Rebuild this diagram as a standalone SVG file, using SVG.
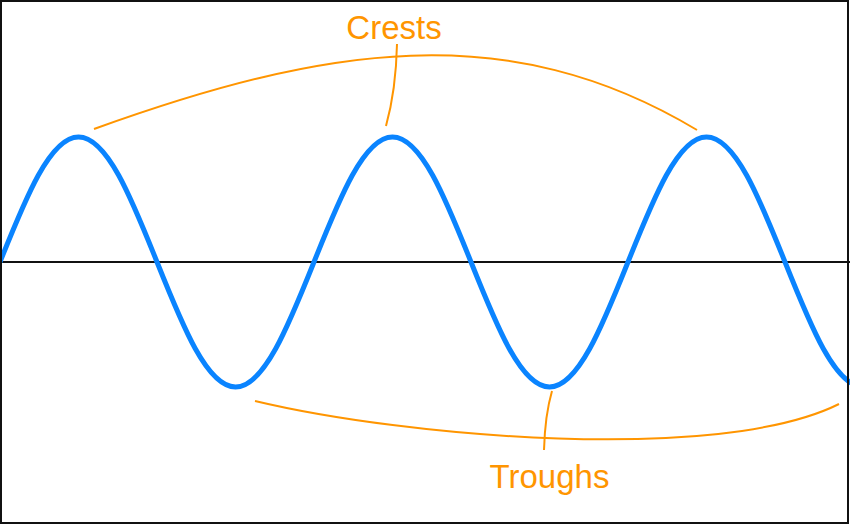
<svg xmlns="http://www.w3.org/2000/svg" width="850" height="525" viewBox="0 0 850 525">
  <style>
    .axis { stroke: #111111; stroke-width: 2; fill: none; }
    .wave { stroke: #0A84FF; stroke-width: 5; fill: none; stroke-linejoin: round; }
    .lead { stroke: #FF9500; stroke-width: 2; fill: none; stroke-linecap: butt; }
    .label { font-family: "Liberation Sans", Arial, sans-serif; font-size: 33px; fill: #FF9500; text-anchor: middle; }
    .frame { stroke: #111111; stroke-width: 2; fill: none; }
  </style>
  <rect x="0" y="0" width="850" height="525" fill="#ffffff"/>
  <g id="axis">
    <line class="axis" x1="0" y1="262" x2="850" y2="262"/>
  </g>
  <g id="wave">
    <path class="wave" d="M0,262 C25.6,197.96 50.09,137 78.5,137 C106.91,137 131.4,197.96 157,262 C182.6,326.04 207.09,387 235.5,387 C263.91,387 288.4,326.04 314,262 C339.6,197.96 364.09,137 392.5,137 C420.91,137 445.4,197.96 471,262 C496.6,326.04 521.09,387 549.5,387 C577.91,387 602.4,326.04 628,262 C653.6,197.96 678.09,137 706.5,137 C734.91,137 759.4,197.96 785,262 C810.6,326.04 835.09,387 863.5,387"/>
  </g>
  <g id="connectors">
    <path class="lead" d="M94,129 C324,46.2 507,16 697,130"/>
    <path class="lead" d="M397,44 Q396,90 386,126"/>
    <path class="lead" d="M255,401 C405,437 719,464 839,404"/>
    <path class="lead" d="M552,391 Q545,415 544,450"/>
  </g>
  <g id="crests">
    <text class="label" x="394" y="39">Crests</text>
  </g>
  <g id="troughs">
    <text class="label" x="549.5" y="488">Troughs</text>
  </g>
  <rect class="frame" x="1" y="1" width="847" height="522"/>
</svg>
